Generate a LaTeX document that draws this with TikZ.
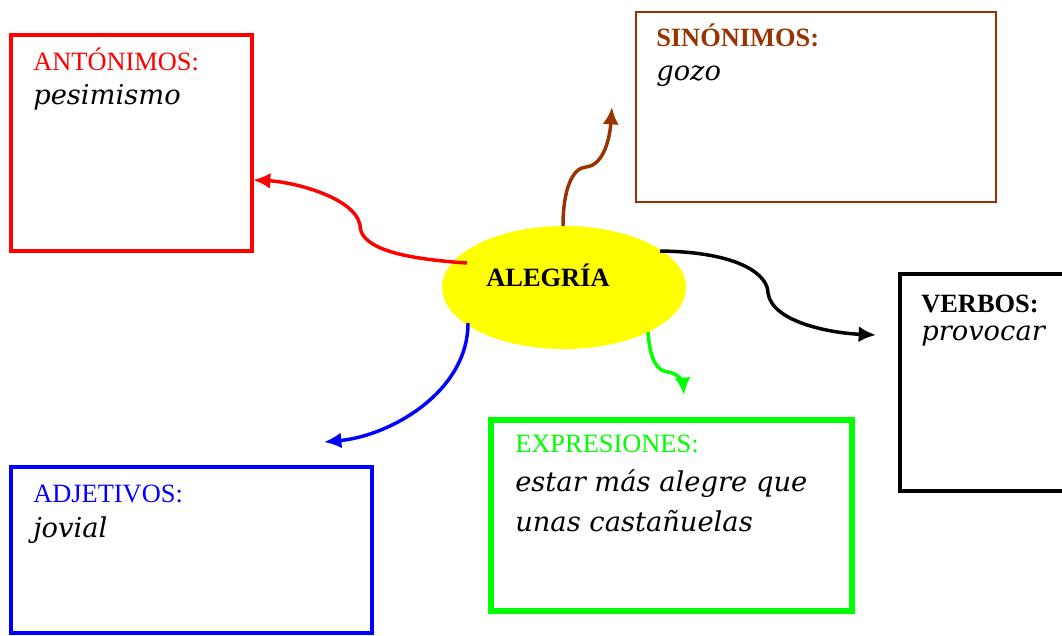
\documentclass[tikz,border=0pt]{standalone}
\usepackage{fontspec}
\setmainfont{Liberation Serif}
\newfontfamily\hand{DejaVu Serif}
\usetikzlibrary{arrows.meta,shapes.geometric}
\definecolor{mybrown}{RGB}{153,51,0}
\definecolor{mygreen}{RGB}{0,255,0}
\definecolor{myyellow}{RGB}{255,255,0}
\tikzset{
  box/.style={draw, rectangle, inner sep=0pt, line width=2.8pt},
  head/.style={anchor=base west, inner sep=0pt, font=\fontsize{19.8}{23}\selectfont},
  word/.style={anchor=base west, inner sep=0pt, font=\hand\itshape\fontsize{20.5}{24}\selectfont},
  conn/.style={line width=2.6pt, -{Latex[length=13pt,width=12pt]}},
}
\begin{document}
\begin{tikzpicture}[x=0.75pt,y=-0.75pt]
\clip (0,0) rectangle (1062,635);
\fill[white] (0,0) rectangle (1062,635);
% boxes
\node (ant) [box, red, minimum width=180.75pt, minimum height=162pt] at (131.5,143) {};
\node (sin) [box, mybrown, line width=1.8pt, minimum width=270pt, minimum height=142.5pt] at (816,107) {};
\node (verb) [box, black, line width=2.5pt, minimum width=135pt, minimum height=162.75pt] at (990,382.5) {};
\node (exp) [box, mygreen, line width=4pt, minimum width=270.75pt, minimum height=143.25pt] at (671.5,515.5) {};
\node (adj) [box, blue, minimum width=270.75pt, minimum height=124.5pt] at (191.5,550) {};
% texts
\node (antT) [head, red] at (33,70) {ANTÓNIMOS:};
\node (antW) [word] at (33,104) {pesimismo};
\node (sinT) [head, mybrown, font=\fontsize{19.8}{23}\selectfont\bfseries] at (656,47) {SINÓNIMOS:};
\node (sinW) [word] at (656,80) {gozo};
\node (verbT) [head, font=\fontsize{19.8}{23}\selectfont\bfseries] at (921,312) {VERBOS:};
\node (verbW) [word] at (921,340) {provocar};
\node (expT) [head, mygreen] at (515,452) {EXPRESIONES:};
\node (expW1) [word] at (515,491) {estar más alegre que};
\node (expW2) [word] at (515,531) {unas castañuelas};
\node (adjT) [head, blue] at (33,502) {ADJETIVOS:};
\node (adjW) [word] at (33,537) {jovial};
% centre
\node (e) [ellipse, fill=myyellow, inner sep=0pt, minimum width=183pt, minimum height=92.25pt] at (564,287.5) {};
\node (eT) [head, anchor=base, font=\fontsize{19.8}{23}\selectfont\bfseries] at (548,286) {ALEGRÍA};
% connector ends
\coordinate (r0) at (467,263);
\coordinate (r1) at (253,180);
\coordinate (b0) at (563,226);
\coordinate (b1) at (612,107);
\coordinate (k0) at (660,251);
\coordinate (k1) at (876,335);
\coordinate (g0) at (648,332);
\coordinate (g1) at (684,395);
\coordinate (u0) at (468,323);
\coordinate (u1) at (324,442);
% connectors
\draw[conn, red] (r0) .. controls (390,258) and (360,245) .. (360,225) .. controls (355,198) and (295,182) .. (r1);
\draw[conn, mybrown] (b0) .. controls (563,190) and (572,168) .. (586,167) .. controls (605,165) and (610,135) .. (b1);
\draw[conn, black] (k0) .. controls (740,252) and (768,275) .. (768,293) .. controls (772,322) and (830,333) .. (k1);
\draw[conn, mygreen] (g0) .. controls (650,362) and (658,371) .. (668,372) .. controls (678,373) and (683,383) .. (g1);
\draw[conn, blue] (u0) .. controls (468,392) and (390,436) .. (u1);
\end{tikzpicture}
\end{document}
